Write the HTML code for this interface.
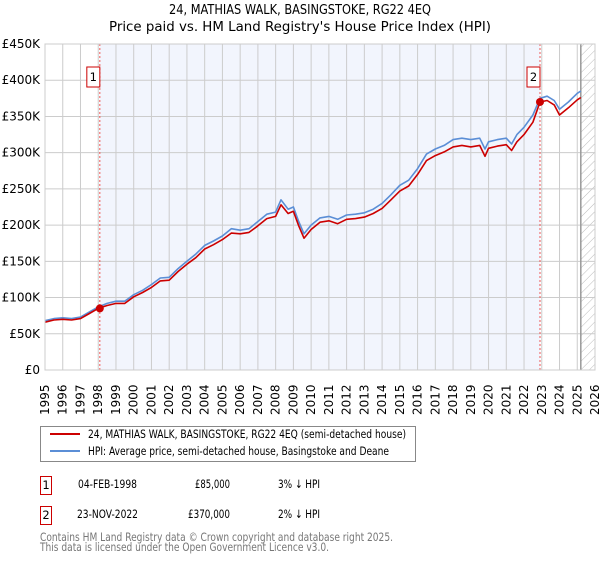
<!DOCTYPE html>
<html><head><meta charset="utf-8"><style>
body{margin:0;background:#fff;font-family:"DejaVu Sans","Liberation Sans",sans-serif;}
svg text{font-family:"DejaVu Sans","Liberation Sans",sans-serif;}
</style></head><body>
<svg id="c" width="600" height="560" xmlns="http://www.w3.org/2000/svg">
<defs><pattern id="hatch" width="6" height="6" patternUnits="userSpaceOnUse" patternTransform="rotate(45)"><line x1="0" y1="0" x2="0" y2="6" stroke="#bbb" stroke-width="1"/></pattern></defs>
<text x="300" y="14" text-anchor="middle" font-size="13" textLength="262" lengthAdjust="spacingAndGlyphs">24, MATHIAS WALK, BASINGSTOKE, RG22 4EQ</text>
<text x="300" y="31" text-anchor="middle" font-size="13" textLength="382" lengthAdjust="spacingAndGlyphs">Price paid vs. HM Land Registry's House Price Index (HPI)</text>
<g id="plot"></g>
<g>
<rect x="40.5" y="426.5" width="375" height="35" fill="#fff" stroke="#888"/>
<line x1="50" y1="434" x2="80" y2="434" stroke="#cc0000" stroke-width="2"/>
<text x="88" y="438" font-size="11.5" textLength="318" lengthAdjust="spacingAndGlyphs">24, MATHIAS WALK, BASINGSTOKE, RG22 4EQ (semi-detached house)</text>
<line x1="50" y1="451" x2="80" y2="451" stroke="#5b8ed6" stroke-width="2"/>
<text x="88" y="455" font-size="11.5" textLength="301" lengthAdjust="spacingAndGlyphs">HPI: Average price, semi-detached house, Basingstoke and Deane</text>
</g>
<g font-size="11.5">
<rect x="40.5" y="476.5" width="11" height="18" fill="#fff" stroke="#cc0000"/><text x="46" y="489" text-anchor="middle">1</text>
<text x="78" y="488" textLength="59" lengthAdjust="spacingAndGlyphs">04-FEB-1998</text><text x="195" y="488" textLength="35" lengthAdjust="spacingAndGlyphs">£85,000</text><text x="278" y="488" textLength="42" lengthAdjust="spacingAndGlyphs">3% ↓ HPI</text>
<rect x="40.5" y="506.5" width="11" height="18" fill="#fff" stroke="#cc0000"/><text x="46" y="519" text-anchor="middle">2</text>
<text x="77" y="518" textLength="61" lengthAdjust="spacingAndGlyphs">23-NOV-2022</text><text x="188" y="518" textLength="42" lengthAdjust="spacingAndGlyphs">£370,000</text><text x="278" y="518" textLength="42" lengthAdjust="spacingAndGlyphs">2% ↓ HPI</text>
</g>
<text x="40" y="541" font-size="11.5" fill="#777" textLength="353" lengthAdjust="spacingAndGlyphs">Contains HM Land Registry data © Crown copyright and database right 2025.</text>
<text x="40" y="551" font-size="11.5" fill="#777" textLength="289" lengthAdjust="spacingAndGlyphs">This data is licensed under the Open Government Licence v3.0.</text>
</svg>
<script>
const years=[1995,1995.5,1996,1996.5,1997,1997.5,1998,1998.5,1999,1999.5,2000,2000.5,2001,2001.5,2002,2002.5,2003,2003.5,2004,2004.5,2005,2005.5,2006,2006.5,2007,2007.5,2008,2008.3,2008.7,2009,2009.3,2009.6,2010,2010.5,2011,2011.5,2012,2012.5,2013,2013.5,2014,2014.5,2015,2015.5,2016,2016.5,2017,2017.5,2018,2018.5,2019,2019.5,2019.8,2020,2020.5,2021,2021.3,2021.6,2022,2022.5,2022.9,2023.3,2023.7,2024,2024.5,2025,2025.2];
const hpi=[68,71,72,71,73,80,87,92,95,95,104,110,118,127,128,140,150,160,172,178,185,195,193,195,205,215,218,235,222,225,205,188,200,210,212,208,214,215,217,222,230,242,255,262,278,298,305,310,318,320,318,320,305,315,318,320,312,325,335,352,375,378,372,360,370,382,385];
const price=[66,69,70,69,71,78,85,89,92,92,101,107,114,123,124,136,146,155,167,173,180,189,188,190,199,209,212,228,216,219,199,182,194,204,206,202,208,209,211,216,223,235,247,254,270,289,296,301,308,310,308,310,295,306,309,311,303,315,325,342,370,372,366,352,362,373,376];
const yTicks=[0,50,100,150,200,250,300,350,400,450];
const xTicks=[1995,1996,1997,1998,1999,2000,2001,2002,2003,2004,2005,2006,2007,2008,2009,2010,2011,2012,2013,2014,2015,2016,2017,2018,2019,2020,2021,2022,2023,2024,2025,2026];
const sales=[{label:"1",t:1998.09,v:85},{label:"2",t:2022.9,v:370}];
const dataEnd=2025.2;
const X0=45,X1=595,Y0=370,Y1=44;
const xs=t=>X0+(t-1995)/(2026-1995)*(X1-X0);
const ys=v=>Y0-v/450*(Y0-Y1);
const NS="http://www.w3.org/2000/svg";
const g=document.getElementById('plot');
function mk(tag,attrs,parent){const e=document.createElementNS(NS,tag);for(const k in attrs)e.setAttribute(k,attrs[k]);(parent||g).appendChild(e);return e;}
let r=mk('rect',{x:xs(sales[0].t),y:Y1,width:xs(sales[1].t)-xs(sales[0].t),height:Y0-Y1,fill:'#f2f5fd'});


r=mk('rect',{x:xs(dataEnd),y:Y1,width:X1-xs(dataEnd),height:Y0-Y1,fill:'url(#hatch)'});


xTicks.forEach(t=>{const l=mk('line',{x1:xs(t),x2:xs(t),y1:Y1,y2:Y0,stroke:'#ccc'});


const tx=mk('text',{x:0,y:0,'font-size':12,transform:`translate(${xs(t)+4},${Y0+45}) rotate(-90)`});tx.textContent=t;

});
yTicks.forEach(v=>{const l=mk('line',{x1:X0,x2:X1,y1:ys(v),y2:ys(v),stroke:'#ccc'});


const tx=mk('text',{x:X0-5,y:ys(v)+4,'font-size':12,'text-anchor':'end'});tx.textContent=v===0?'£0':'£'+v+'K';

});
const ln=mk('line',{x1:xs(dataEnd),x2:xs(dataEnd),y1:Y1,y2:Y0,stroke:'#999','stroke-width':1.5});


sales.forEach(s=>{const l=mk('line',{x1:xs(s.t),x2:xs(s.t),y1:Y1,y2:Y0,stroke:'#ee5555','stroke-dasharray':'2,2'});

});
function path(arr,color,name){const d=arr.map((v,i)=>(i?'L':'M')+xs(years[i]).toFixed(1)+','+ys(v).toFixed(1)).join('');
const p=mk('path',{d:d,fill:'none',stroke:color,'stroke-width':1.6,'stroke-linejoin':'round'});

}
path(hpi,'#5b8ed6','hpi-line');
path(price,'#cc0000','price-paid-line');
sales.forEach(s=>{const c=mk('circle',{cx:xs(s.t),cy:ys(s.v),r:4,fill:'#cc0000'});


const b=mk('rect',{x:xs(s.t)-13,y:67,width:13,height:20,fill:'#fff',stroke:'#cc0000'});


const t=mk('text',{x:xs(s.t)-6.5,y:81,'font-size':11.5,'text-anchor':'middle'});t.textContent=s.label;

});
const fr=mk('rect',{x:X0,y:Y1,width:X1-X0,height:Y0-Y1,fill:'none',stroke:'#ccc'});


</script>
</body></html>
